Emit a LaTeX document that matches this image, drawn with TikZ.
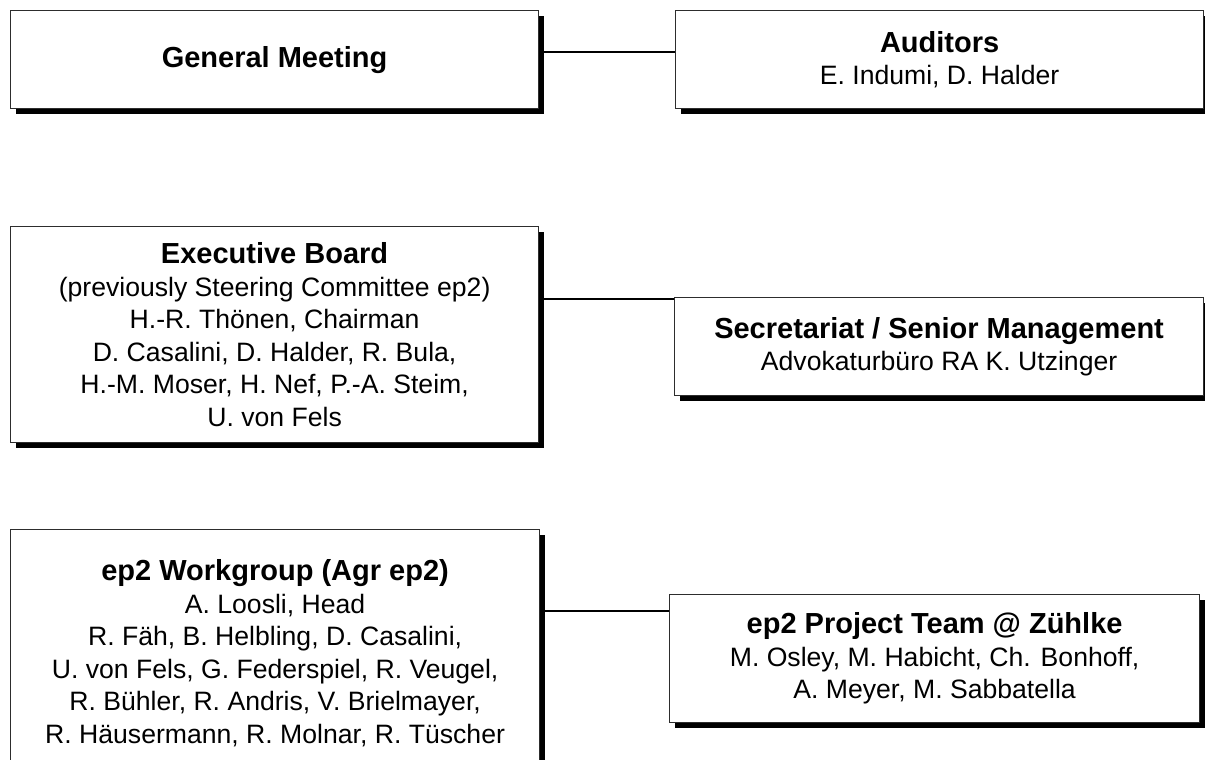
\documentclass[tikz,border=0pt]{standalone}
\usepackage{fontspec}
\setmainfont{Liberation Sans}
\usetikzlibrary{shadows}

\newcommand{\boxhead}[1]{{\fontsize{29}{32.5}\selectfont\bfseries #1}}

\tikzset{every picture/.style={line width=0.75pt}}
\tikzset{
  orgbox/.style={draw={rgb, 255:red, 45; green, 45; blue, 45}, fill=white, line width=1.2pt,
    inner sep=0pt, anchor=north west, align=center,
    font=\fontsize{26.6}{32.5}\selectfont,
    drop shadow={shadow xshift=5pt, shadow yshift=-5pt, fill=black, opacity=1}},
  orglink/.style={line width=1.5pt, color=black}
}

\begin{document}
\begin{tikzpicture}[x=1pt,y=1pt,yscale=-1,xscale=1]
\useasboundingbox (0,0) rectangle (1205,760);

%Shape: Rectangle [General Meeting]
\node [orgbox, minimum width=528, minimum height=98] (gm) at (10,10) {\boxhead{General Meeting}};
%Shape: Rectangle [Auditors]
\node [orgbox, minimum width=528, minimum height=98] (aud) at (675,10) {\boxhead{Auditors}\\E. Indumi, D. Halder};
%Shape: Rectangle [Executive Board]
\node [orgbox, minimum width=528, minimum height=216] (exec) at (10,226) {\boxhead{Executive Board}\\(previously Steering Committee ep2)\\H.-R. Thönen, Chairman\\D. Casalini, D. Halder, R. Bula,\\H.-M. Moser, H. Nef, P.-A. Steim,\\U. von Fels};
%Shape: Rectangle [Secretariat]
\node [orgbox, minimum width=529, minimum height=98] (sec) at (674,297) {\boxhead{Secretariat / Senior Management}\\Advokaturbüro RA K. Utzinger};
%Shape: Rectangle [Workgroup]
\node [orgbox, minimum width=529, minimum height=247] (wg) at (10,529) {\boxhead{ep2 Workgroup (Agr ep2)}\\A. Loosli, Head\\R. Fäh, B. Helbling, D. Casalini,\\U. von Fels, G. Federspiel, R. Veugel,\\R. Bühler, R. Andris, V. Brielmayer,\\R. Häusermann, R. Molnar, R. Tüscher};
%Shape: Rectangle [Project Team]
\node [orgbox, minimum width=530, minimum height=128] (proj) at (669,594) {\boxhead{ep2 Project Team @ Zühlke}\\M. Osley, M. Habicht, Ch. Bonhoff,\\A. Meyer, M. Sabbatella};

%Straight Lines
\coordinate (l1) at (0,52);
\coordinate (l2) at (0,299);
\coordinate (l3) at (0,611);
\draw [orglink] ([xshift=5pt]gm.east |- l1) -- (aud.west |- l1);
\draw [orglink] ([xshift=5pt]exec.east |- l2) -- (sec.west |- l2);
\draw [orglink] ([xshift=5pt]wg.east |- l3) -- (proj.west |- l3);

\end{tikzpicture}
\end{document}
